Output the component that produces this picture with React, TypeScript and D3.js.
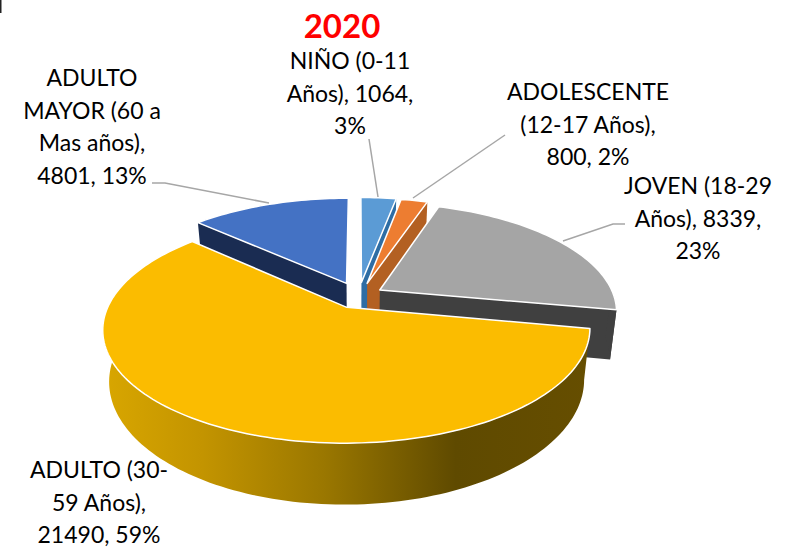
import React from 'react';
import * as d3 from 'd3';

const categories = ['NIÑO', 'ADOLESCENTE', 'JOVEN', 'ADULTO', 'ADULTO MAYOR'];
const values = [1064, 800, 8339, 21490, 4801];
const topColors = ['#5B9BD5', '#ED7D31', '#A5A5A5', '#FBBC00', '#4472C4'];
const sideColors = ['#2E6DA4', '#B36022', '#404040', '#8A6C00', '#1A2C52'];
// how far each slice is pulled out, sideways and away from the viewer
const explodeX = [0.015, 0.04, 0.094, -0.047, -0.05];
const explodeZ = [0.17, 0.16, 0.095, -0.068, 0.16];
const drawOrder = [0, 1, 4, 2, 3];

const labelLines = [
  ['NIÑO (0-11', 'Años), 1064,', '3%'],
  ['ADOLESCENTE', '(12-17 Años),', '800, 2%'],
  ['JOVEN (18-29', 'Años), 8339,', '23%'],
  ['ADULTO (30-', '59 Años),', '21490, 59%'],
  ['ADULTO', 'MAYOR (60 a', 'Mas años),', '4801, 13%'],
];
const labelCenters = [[350, 69], [588, 100], [698, 194], [99, 478], [92, 86]];
const leaderPoints = [
  [[369, 139], [378, 197]],
  [[505, 135], [413, 198]],
  [[625, 224], [613, 224], [563, 241]],
  [],
  [[152, 183], [165, 183], [269, 203]],
];

const width = 794;
const height = 556;
const cx = 358;
const cy = 300;
const radiusX = 236;
const radiusY = 107;
const persp = 0.189;
const depth = 49;

// ground-plane point (x right, z away from the viewer) to screen
const project = (x: number, z: number, lower = false): [number, number] => {
  const s = 1 / (1 + persp * z);
  const px = radiusX * x * s * (lower ? 0.975 : 1);
  const py = -radiusY * z * s + (lower ? depth * s : 0);
  return [cx + px, cy + py];
};

const App = () => {
  const arcs = d3.pie<number>().value(d => d).sort(null)(values);
  const line = d3.line();

  const rimPoints = (i: number, a0: number, a1: number, lower = false) => {
    const n = Math.max(2, Math.ceil((a1 - a0) * 40));
    return d3.range(n + 1).map(k => {
      const a = a0 + ((a1 - a0) * k) / n;
      return project(explodeX[i] + Math.sin(a), explodeZ[i] + Math.cos(a), lower);
    });
  };

  const apex = (i: number, lower = false) => project(explodeX[i], explodeZ[i], lower);

  const wall = (i: number, angle: number) => {
    const top = rimPoints(i, angle, angle)[0];
    const bottom = rimPoints(i, angle, angle, true)[0];
    return line([apex(i), top, bottom, apex(i, true)]) + 'Z';
  };

  return (
    <svg width={width} height={height} style={{ position: 'absolute', left: 0, top: 0 }}>
      <defs>
        <linearGradient id="yellowSide" gradientUnits="userSpaceOnUse" x1="105" y1="0" x2="592" y2="0">
          <stop offset="0" stopColor="#D8A600" />
          <stop offset="0.2" stopColor="#C39400" />
          <stop offset="0.45" stopColor="#9A7700" />
          <stop offset="0.72" stopColor="#5F4A00" />
          <stop offset="1" stopColor="#664E00" />
        </linearGradient>
      </defs>
      <rect x={0} y={0} width={1.5} height={13} fill="#222" />
      {drawOrder.map(i => {
        const { startAngle, endAngle } = arcs[i];
        const outerStart = Math.max(startAngle, Math.PI / 2);
        const outerEnd = Math.min(endAngle, (Math.PI * 3) / 2);
        const hasOuter = outerEnd > outerStart;
        const outer = hasOuter
          ? line([...rimPoints(i, outerStart, outerEnd), ...rimPoints(i, outerStart, outerEnd, true).reverse()]) + 'Z'
          : null;
        const top = line([apex(i), ...rimPoints(i, startAngle, endAngle)]) + 'Z';
        return (
          <g key={categories[i]}>
            {Math.sin(endAngle) > 0.001 && <path d={wall(i, endAngle)} fill={sideColors[i]} />}
            {Math.sin(startAngle) < -0.001 && <path d={wall(i, startAngle)} fill={sideColors[i]} />}
            {outer && <path d={outer} fill={i === 3 ? 'url(#yellowSide)' : sideColors[i]} />}
            <path d={top} fill={topColors[i]} stroke="#fff" strokeWidth={1.5} strokeLinejoin="round" />
          </g>
        );
      })}
      {leaderPoints.map((pts, i) =>
        pts.length ? (
          <path key={i} d={line(pts as [number, number][]) as string} fill="none" stroke="#A6A6A6" strokeWidth={1.5} />
        ) : null
      )}
      <g fontFamily="Lato, 'Open Sans', sans-serif" fontSize={23} fill="#000" textAnchor="middle">
        {labelLines.map((lines, i) => (
          <text key={i} x={labelCenters[i][0]} y={labelCenters[i][1]}>
            {lines.map((t, j) => (
              <tspan key={j} x={labelCenters[i][0]} dy={j === 0 ? 0 : 32.5}>
                {t}
              </tspan>
            ))}
          </text>
        ))}
      </g>
      <text x={342} y={38} textAnchor="middle" fontFamily="Lato, 'Open Sans', sans-serif" fontWeight={700} fontSize={33} fill="#FF0000">
        2020
      </text>
    </svg>
  );
};

export default App;
